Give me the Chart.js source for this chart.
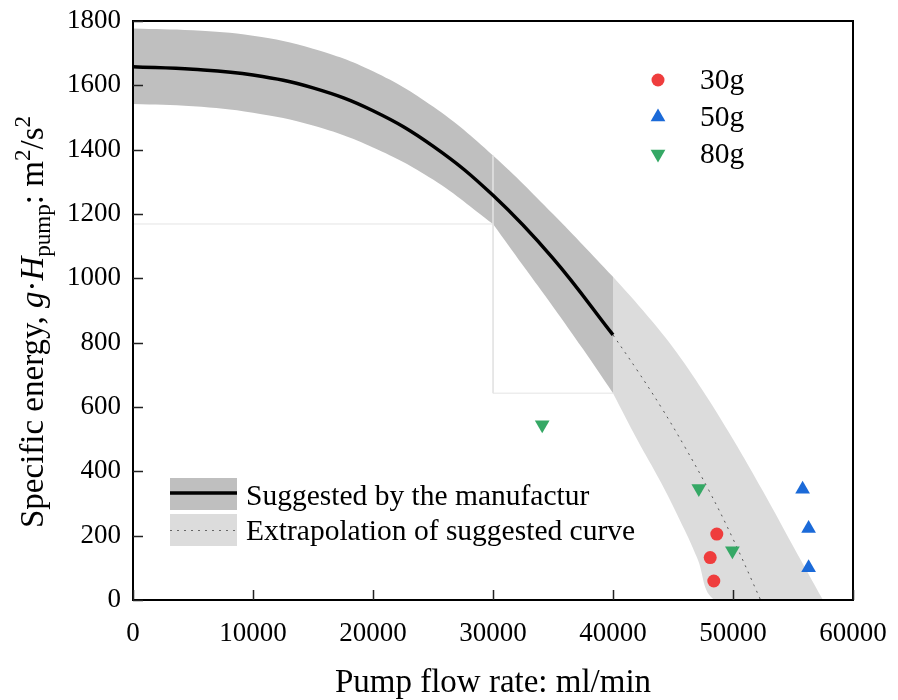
<!DOCTYPE html>
<html>
<head>
<meta charset="utf-8">
<script src="https://cdn.jsdelivr.net/npm/chart.js@4.4.0/dist/chart.umd.min.js"></script>
<style>
  html, body { margin: 0; padding: 0; background: #fff; }
  #wrap { width: 898px; height: 700px; }
</style>
</head>
<body>
<div id="wrap"><canvas id="pumpChart" width="898" height="700"></canvas></div>
<script>
// Manufacturer pump curve, flow (ml/min) vs specific energy (m2/s2)
const curveQ = [0, 5000, 10000, 15000, 20000, 25000, 30000, 35000, 40000];
const curveH = [1658, 1650, 1632, 1592, 1521, 1411, 1258, 1062, 824];

// uncertainty band: one upper edge, lower edge bends at 30000
const bandUpper = [1777, 1771, 1754, 1714, 1644, 1534, 1382, 1200, 1005];
const lowerQ1 = [0, 5000, 10000, 15000, 20000, 25000, 30000];
const lowerH1 = [1542, 1535, 1515, 1475, 1407, 1307, 1169];
const lowerQ2 = [30000, 32500, 35000, 37500, 40000];
const lowerH2 = [1169, 1040, 912, 780, 643];

// extrapolation beyond 40000 ml/min
const extQ = [40000, 42000, 44000, 46000, 48000, 50000, 52300];
const extH = [824, 715, 600, 475, 340, 190, 0];
const extUpperQ = [40000, 42500, 45000, 47500, 50000, 52500, 55000, 57500];
const extUpperH = [1005, 900, 785, 650, 500, 338, 168, 0];
const extLowerQ = [40000, 42000, 44000, 46000, 47000, 48500, 53000, 57500];
const extLowerH = [643, 500, 365, 215, 132, 0, 0, 0];

// thin outline around the fitted region
const outlineQ = [0, 30000, 30000, 30000, 40000];
const outlineH = [1169, 1169, 1382, 643, 643];

// measured points for each load
const q30 = [48650, 48100, 48400];
const h30 = [205, 132, 59];
const q50 = [55800, 56300, 56300];
const h50 = [344, 222, 100];
const q80 = [34100, 47150, 49950];
const h80 = [545, 347, 153];

const xTicks = [0, 10000, 20000, 30000, 40000, 50000, 60000];
const yTicks = [0, 200, 400, 600, 800, 1000, 1200, 1400, 1600, 1800];

const RED = '#ef3d3d';
const BLUE = '#1b6ad8';
const GREEN = '#35a865';
const DARK = '#bfbfbf';
const LIGHT = '#dcdcdc';
const SERIF = '"Liberation Serif", "Times New Roman", serif';

const pts = (xs, ys) => xs.map((x, i) => ({ x: x, y: ys[i] }));

// frame, inward ticks, legends and axis titles
const decorations = {
    id: 'decorations',
    afterDatasetsDraw(chart) {
        const { ctx, chartArea: a, scales: { x, y } } = chart;
        ctx.save();
        ctx.strokeStyle = '#000';
        ctx.lineWidth = 2;
        ctx.strokeRect(a.left, a.top, a.right - a.left, a.bottom - a.top);
        ctx.lineWidth = 1.5;
        ctx.strokeStyle = '#222';
        ctx.beginPath();
        xTicks.forEach(v => {
            const px = Math.round(x.getPixelForValue(v)) + 0.5;
            ctx.moveTo(px, a.bottom);
            ctx.lineTo(px, a.bottom - 10);
        });
        yTicks.forEach(v => {
            const py = Math.round(y.getPixelForValue(v)) + 0.5;
            ctx.moveTo(a.left, py);
            ctx.lineTo(a.left + 10, py);
        });
        ctx.stroke();
        ctx.restore();
    },
    afterDraw(chart) {
        const { ctx } = chart;
        ctx.save();
        ctx.fillStyle = '#000';

        // load legend
        const loads = [
            { label: '30g', color: RED, shape: 'circle', y: 80, base: 89 },
            { label: '50g', color: BLUE, shape: 'up', y: 117, base: 126 },
            { label: '80g', color: GREEN, shape: 'down', y: 154, base: 163 }
        ];
        loads.forEach(l => {
            ctx.fillStyle = l.color;
            drawMarker(ctx, l.shape, 658, l.y);
            ctx.fillStyle = '#000';
            ctx.font = '29.5px ' + SERIF;
            ctx.textBaseline = 'alphabetic';
            ctx.fillText(l.label, 700, l.base);
        });

        // curve legend
        ctx.fillStyle = DARK;
        ctx.fillRect(170, 478, 67, 32);
        ctx.fillStyle = LIGHT;
        ctx.fillRect(170, 514, 67, 32);
        ctx.strokeStyle = '#000';
        ctx.lineWidth = 3.5;
        ctx.beginPath();
        ctx.moveTo(170, 493);
        ctx.lineTo(237, 493);
        ctx.stroke();
        ctx.strokeStyle = '#666';
        ctx.lineWidth = 1;
        ctx.setLineDash([2, 5]);
        ctx.beginPath();
        ctx.moveTo(170, 530.5);
        ctx.lineTo(237, 530.5);
        ctx.stroke();
        ctx.setLineDash([]);
        ctx.fillStyle = '#000';
        ctx.font = '29.5px ' + SERIF;
        ctx.fillText('Suggested by the manufactur', 246, 505);
        ctx.fillText('Extrapolation of suggested curve', 246, 540);

        // x title
        ctx.font = '33px ' + SERIF;
        ctx.textAlign = 'center';
        ctx.fillText('Pump flow rate: ml/min', 493, 692);

        // y title with italic symbols, subscript and superscripts
        const parts = [
            { t: 'Specific energy, ' },
            { t: 'g', it: true },
            { t: '\u00b7' },
            { t: 'H', it: true },
            { t: 'pump', s: 0.7, dy: 7 },
            { t: ': m' },
            { t: '2', s: 0.7, dy: -13 },
            { t: '/s' },
            { t: '2', s: 0.7, dy: -13 }
        ];
        const size = 33;
        const fontOf = p => (p.it ? 'italic ' : '') + (size * (p.s || 1)) + 'px ' + SERIF;
        ctx.textAlign = 'left';
        let total = 0;
        parts.forEach(p => { ctx.font = fontOf(p); p.w = ctx.measureText(p.t).width; total += p.w; });
        ctx.translate(43, 322);
        ctx.rotate(-Math.PI / 2);
        let cx = -total / 2;
        parts.forEach(p => {
            ctx.font = fontOf(p);
            ctx.fillText(p.t, cx, p.dy || 0);
            cx += p.w;
        });
        ctx.restore();
    }
};

function drawMarker(ctx, shape, x, y) {
    ctx.beginPath();
    if (shape === 'circle') {
        ctx.arc(x, y, 6.5, 0, Math.PI * 2);
    } else {
        const r = 8.5;
        const s = shape === 'up' ? 1 : -1;
        ctx.moveTo(x, y - s * r);
        ctx.lineTo(x + r * Math.sin(Math.PI * 2 / 3), y + s * r / 2);
        ctx.lineTo(x - r * Math.sin(Math.PI * 2 / 3), y + s * r / 2);
        ctx.closePath();
    }
    ctx.fill();
}

const edge = {
    showLine: true,
    borderWidth: 0,
    pointRadius: 0,
    tension: 0.4
};

// keep tick labels from pushing the plot area inwards
const noOverhang = scale => {
    scale.paddingLeft = 0;
    scale.paddingRight = 0;
    scale.paddingTop = 0;
    scale.paddingBottom = 0;
};

new Chart(document.getElementById('pumpChart'), {
    type: 'scatter',
    data: {
        datasets: [
            { label: '30g', data: pts(q30, h30), pointStyle: 'circle', pointRadius: 6.5,
              backgroundColor: RED, borderWidth: 0, order: 0 },
            { label: '50g', data: pts(q50, h50), pointStyle: 'triangle', pointRadius: 8.5,
              backgroundColor: BLUE, borderWidth: 0, order: 0 },
            { label: '80g', data: pts(q80, h80), pointStyle: 'triangle', rotation: 180, pointRadius: 8.5,
              backgroundColor: GREEN, borderWidth: 0, order: 0 },
            { label: 'suggested', data: pts(curveQ, curveH), showLine: true, borderColor: '#000',
              borderWidth: 3.5, pointRadius: 0, tension: 0.4, order: 1 },
            { label: 'extrapolated', data: pts(extQ, extH), showLine: true, borderColor: '#555',
              borderWidth: 1, borderDash: [2, 5], pointRadius: 0, tension: 0.4, order: 2 },
            { label: 'outline', data: pts(outlineQ, outlineH), showLine: true, borderColor: '#e4e4e4',
              borderWidth: 1, pointRadius: 0, tension: 0, order: 3 },
            Object.assign({ label: 'band top', data: pts(curveQ, bandUpper), fill: '+1',
              backgroundColor: DARK, order: 4 }, edge),
            Object.assign({ label: 'band bottom 1', data: pts(lowerQ1, lowerH1), fill: false, order: 4 }, edge),
            Object.assign({ label: 'band bottom 2', data: pts(lowerQ2, lowerH2), fill: '-2',
              backgroundColor: DARK, order: 4 }, edge),
            Object.assign({ label: 'ext top', data: pts(extUpperQ, extUpperH), fill: '+1',
              backgroundColor: LIGHT, order: 5 }, edge),
            Object.assign({ label: 'ext bottom', data: pts(extLowerQ, extLowerH), fill: false, order: 5 }, edge)
        ]
    },
    options: {
        responsive: false,
        animation: false,
        events: [],
        layout: { padding: { left: 0, top: 21, right: 45, bottom: 0 } },
        plugins: {
            legend: { display: false },
            tooltip: { enabled: false }
        },
        scales: {
            x: {
                type: 'linear',
                min: 0,
                max: 60000,
                afterFit: scale => { scale.height = 100; noOverhang(scale); },
                grid: { display: false, drawTicks: false },
                border: { display: false },
                ticks: {
                    stepSize: 10000,
                    padding: 18,
                    color: '#000',
                    font: { family: SERIF, size: 27 },
                    callback: v => String(v)
                }
            },
            y: {
                min: 0,
                max: 1800,
                afterFit: scale => { scale.width = 133; noOverhang(scale); },
                grid: { display: false, drawTicks: false },
                border: { display: false },
                ticks: {
                    stepSize: 200,
                    padding: 12,
                    color: '#000',
                    font: { family: SERIF, size: 27 },
                    callback: v => String(v)
                }
            }
        }
    },
    plugins: [decorations]
});
</script>
</body>
</html>
